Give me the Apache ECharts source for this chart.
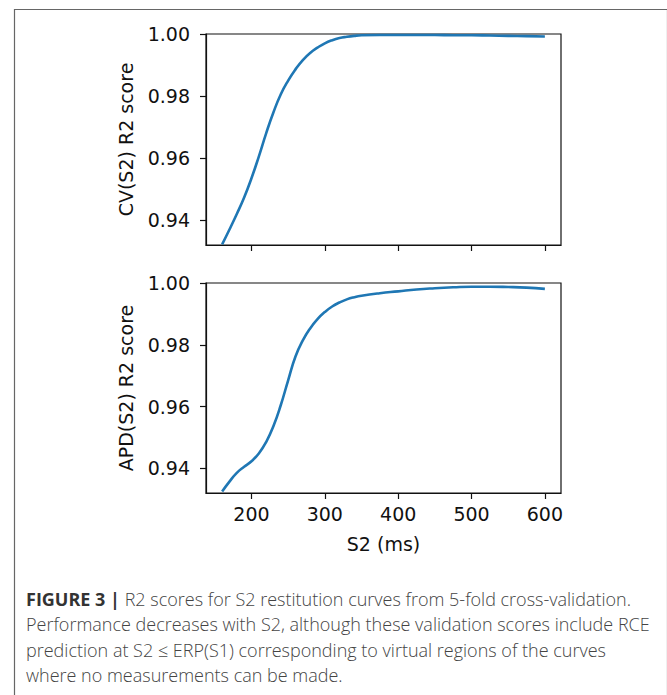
<!DOCTYPE html>
<html>
<head>
<meta charset="utf-8">
<script src="https://cdn.jsdelivr.net/npm/echarts@6/dist/echarts.min.js"></script>
<style>
  html, body { margin: 0; padding: 0; background: #fff; }
  #chart { width: 667px; height: 695px; }
</style>
</head>
<body>
<div id="chart"></div>
<script>
// ---- Data ----
const s2Values = [160, 170, 180, 190, 200, 210, 220, 230, 240, 250, 260, 270, 280, 290, 300, 310, 320, 330, 340, 350, 375, 400, 425, 450, 475, 500, 525, 550, 575, 600];
const cvScores = [0.9322, 0.9370, 0.9420, 0.9473, 0.9535, 0.9605, 0.9680, 0.9748, 0.9806, 0.9850, 0.9886, 0.9916, 0.9939, 0.9956, 0.9970, 0.9980, 0.9987, 0.9991, 0.9994, 0.9996, 0.9997, 0.9997, 0.9997, 0.9997, 0.9996, 0.9996, 0.9995, 0.9994, 0.9993, 0.9992];
const apdScores = [0.9325, 0.9357, 0.9385, 0.9405, 0.9423, 0.9448, 0.9485, 0.9537, 0.9605, 0.9685, 0.9762, 0.9814, 0.9853, 0.9883, 0.9906, 0.9924, 0.9937, 0.9947, 0.9954, 0.9959, 0.9967, 0.9973, 0.9979, 0.9983, 0.9986, 0.9988, 0.9988, 0.9987, 0.9985, 0.9981];
const xTicks = [200, 300, 400, 500, 600];
const yTicks = [0.94, 0.96, 0.98, 1.00];
const xName = 'S2 (ms)';
const yNames = ['CV(S2) R2 score', 'APD(S2) R2 score'];
const captionBold = 'FIGURE 3 | ';
const captionLines = [
  'R2 scores for S2 restitution curves from 5-fold cross-validation.',
  'Performance decreases with S2, although these validation scores include RCE',
  'prediction at S2 \u2264 ERP(S1) corresponding to virtual regions of the curves',
  'where no measurements can be made.'
];

// ---- Chart ----
const chart = echarts.init(document.getElementById('chart'), null, { renderer: 'svg' });
const FONT = 'DejaVu Sans';
const CAP_FONT = 'Open Sans';
const CAP_SIZE = 18;
const INK = '#111';
const LINE = '#1f77b4';

function makeX(gridIndex, showLabels) {
  return {
    type: 'value', gridIndex: gridIndex, min: 138, max: 622,
    name: showLabels ? xName : '', nameLocation: 'middle', nameGap: 41,
    nameTextStyle: { fontFamily: FONT, fontSize: 19, color: INK },
    axisLine: { show: true, onZero: false, lineStyle: { color: INK, width: 1.2 } },
    axisTick: { show: true, inside: false, length: 6, customValues: xTicks, lineStyle: { color: INK, width: 1.2 } },
    axisLabel: { show: showLabels, customValues: xTicks, margin: 11, fontFamily: FONT, fontSize: 19, color: INK },
    splitLine: { show: false }
  };
}
function makeY(gridIndex, name) {
  return {
    type: 'value', gridIndex: gridIndex, min: 0.932, max: 1.0,
    name: name, nameLocation: 'middle', nameGap: 71, nameRotate: 90,
    nameTextStyle: { fontFamily: FONT, fontSize: 19, color: INK },
    axisLine: { show: true, onZero: false, lineStyle: { color: INK, width: 1.2 } },
    axisTick: { show: true, inside: false, length: 6, customValues: yTicks, lineStyle: { color: INK, width: 1.2 } },
    axisLabel: { show: true, customValues: yTicks, margin: 16, fontFamily: FONT, fontSize: 19, color: INK,
      formatter: v => v.toFixed(2) },
    splitLine: { show: false }
  };
}

const captionGraphics = captionLines.map((t, i) => ({
  type: 'text', left: 26, top: 590 + i * 25.3,
  style: i === 0
    ? { text: '{b|' + captionBold + '}{n|' + t + '}', rich: {
          b: { fontFamily: CAP_FONT, fontWeight: 'bold', fontSize: CAP_SIZE, fill: '#333' },
          n: { fontFamily: CAP_FONT, fontWeight: 300, fontSize: CAP_SIZE, fill: '#444' } } }
    : { text: t, fontFamily: CAP_FONT, fontWeight: 300, fontSize: CAP_SIZE, fill: '#444' }
}));

chart.setOption({
  animation: false,
  backgroundColor: '#fff',
  grid: [
    { left: 206, top: 34, width: 355, height: 211, show: true, borderColor: INK, borderWidth: 1.2, containLabel: false },
    { left: 206, top: 283, width: 355, height: 210, show: true, borderColor: INK, borderWidth: 1.2, containLabel: false }
  ],
  xAxis: [makeX(0, false), makeX(1, true)],
  yAxis: [makeY(0, yNames[0]), makeY(1, yNames[1])],
  series: [
    { type: 'line', xAxisIndex: 0, yAxisIndex: 0, data: s2Values.map((x, i) => [x, cvScores[i]]),
      smooth: 0.5, showSymbol: false, lineStyle: { color: LINE, width: 2.6 }, clip: true },
    { type: 'line', xAxisIndex: 1, yAxisIndex: 1, data: s2Values.map((x, i) => [x, apdScores[i]]),
      smooth: 0.5, showSymbol: false, lineStyle: { color: LINE, width: 2.6 }, clip: true }
  ],
  graphic: [
    { type: 'rect', left: 12, top: 7, shape: { width: 653, height: 700 },
      style: { fill: 'none', stroke: '#666', lineWidth: 1.2 } }
  ].concat(captionGraphics)
});
</script>
</body>
</html>
